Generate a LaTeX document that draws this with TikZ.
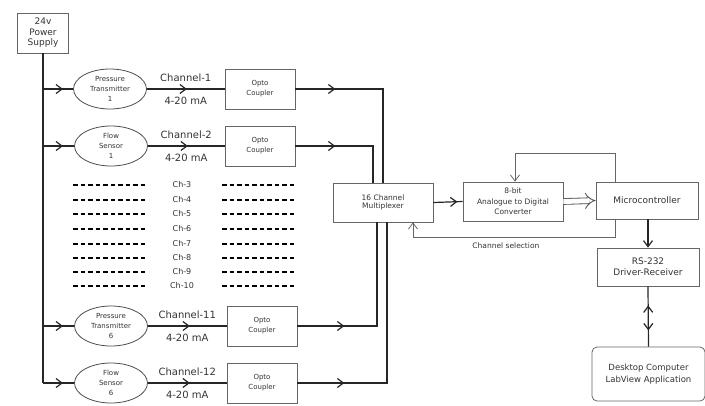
\documentclass[tikz,border=0pt]{standalone}
\usepackage{fontspec}
\setmainfont{DejaVu Sans}
\usetikzlibrary{arrows.meta,positioning,calc,shapes.geometric,decorations.markings}

\begin{document}
\begin{tikzpicture}[x=1pt, y=-1pt,
  font=\fontsize{7}{10}\selectfont, text=black!80,
  box/.style={draw=black!60, line width=0.8pt, align=center, inner sep=1pt,
              minimum width=70pt, minimum height=40pt},
  sensor/.style={ellipse, draw=black!70, line width=0.8pt, align=center,
                 inner sep=0pt, minimum width=73pt, minimum height=40pt},
  wire/.style={draw=black!85, line width=1.2pt},
  fb/.style={draw=black!60, line width=0.8pt},
  tip/.style={-{Straight Barb[length=6pt,width=9pt]}},
  midtip/.style={postaction={decorate}, decoration={markings,
      mark=at position #1 with {\arrow{Straight Barb[length=6pt,width=9pt]}}}},
  chan/.style={font=\fontsize{10}{12}\selectfont, inner sep=1pt},
  dashrow/.style={line width=1.6pt, dash pattern=on 4.5pt off 3pt}
]
\useasboundingbox (0,0) rectangle (705,405);

% supply and sensors
\node[box, minimum width=51pt, font=\fontsize{9}{10.5}\selectfont] (psu) at (43,33) {24v\\Power\\Supply};
\node[sensor] (pt1) at (110,89)  {Pressure\\Transmitter\\1};
\node[sensor] (fs1) at (111,146) {Flow\\Sensor\\1};
\node[sensor] (pt6) at (111,326) {Pressure\\Transmitter\\6};
\node[sensor] (fs6) at (111,383) {Flow\\Sensor\\6};

% opto couplers
\node[box] (oc1)  at (260,89)  {Opto\\Coupler};
\node[box] (oc2)  at (260,146) {Opto\\Coupler};
\node[box] (oc11) at (262,326) {Opto\\Coupler};
\node[box] (oc12) at (262,383) {Opto\\Coupler};

% processing chain
\node[box, minimum width=100pt, minimum height=39pt, font=\fontsize{7.5}{8.5}\selectfont] (mux) at (383,202.5) {16 Channel\\Multiplexer};
\node[box, minimum width=100pt, minimum height=39pt, font=\fontsize{7.5}{10.5}\selectfont] (adc) at (513,201.5) {8-bit\\Analogue to Digital\\Converter};
\node[box, minimum width=102pt, minimum height=37pt, font=\fontsize{9}{11}\selectfont] (mcu) at (647,200.5) {Microcontroller};
\node[box, minimum width=102pt, minimum height=38pt, font=\fontsize{9}{11}\selectfont] (rs) at (648,267) {RS-232\\Driver-Receiver};
\node[box, rounded corners=5pt, minimum width=113pt, minimum height=54pt, font=\fontsize{8.5}{12}\selectfont] (pc) at (648.5,374) {Desktop Computer\\LabView Application};

% supply bus
\draw[wire] (psu.south) -- (psu.south |- fs6.west);
\foreach \s in {pt1,fs1,pt6,fs6}
  \draw[wire, midtip=20pt] (psu.south |- \s.west) -- (\s.west);

% sensor outputs
\draw[wire, midtip=40pt] (pt1.east) -- node[chan, above=6pt] {Channel-1} node[chan, below=6pt] {4-20 mA} (oc1.west);
\draw[wire, midtip=40pt] (fs1.east) -- node[chan, above=6pt] {Channel-2} node[chan, below=6pt] {4-20 mA} (oc2.west);
\draw[wire, midtip=42pt] (pt6.east) -- node[chan, above=6pt] {Channel-11} node[chan, below=6pt] {4-20 mA} (oc11.west);
\draw[wire, midtip=42pt] (fs6.east) -- node[chan, above=6pt] {Channel-12} node[chan, below=6pt] {4-20 mA} (oc12.west);

% channels 3 to 10
\foreach \n/\y in {3/185,4/200,5/214,6/229,7/244,8/258,9/272,10/286}{
  \draw[dashrow] (73,\y) -- (148,\y);
  \node[font=\fontsize{8}{9}\selectfont] (ch\n) at (182,\y) {Ch-\n};
  \draw[dashrow] (222,\y) -- (297,\y);
}

% into the multiplexer
\draw[wire, midtip=40pt] (oc1.east) -| (mux.north);
\draw[wire, midtip=40pt] (oc2.east) -| ([xshift=-10pt]mux.north);
\draw[wire, midtip=47pt] (oc11.east) -| ([xshift=-6pt]mux.south);
\draw[wire, midtip=47pt] (oc12.east) -| ([xshift=4pt]mux.south);

% conversion and control
\draw[wire, midtip=24pt] (mux.east) -- (adc.west);
\draw[draw=black!70, line width=0.8pt, double, double distance=5pt, -{Implies[length=7pt,width=14pt]}] (adc.east) -- (mcu.west);
\draw[fb, tip] ([xshift=-32pt]mcu.north) -- ++(0,-28) -| ([xshift=2pt]adc.north);
\draw[fb, tip] ([xshift=-32pt]mcu.south) -- ++(0,18)
  -| node[pos=0.27, below=2pt, font=\fontsize{7.5}{9}\selectfont] {Channel selection} ([xshift=30pt]mux.south);
\draw[wire, tip] (mcu.south -| rs.north) -- (rs.north);
\draw[wire, postaction={decorate}, decoration={markings,
    mark=at position 19pt with {\arrowreversed{Straight Barb[length=6pt,width=9pt]}},
    mark=at position 44pt with {\arrow{Straight Barb[length=6pt,width=9pt]}}}]
  (rs.south) -- (pc.north);
\end{tikzpicture}
\end{document}
